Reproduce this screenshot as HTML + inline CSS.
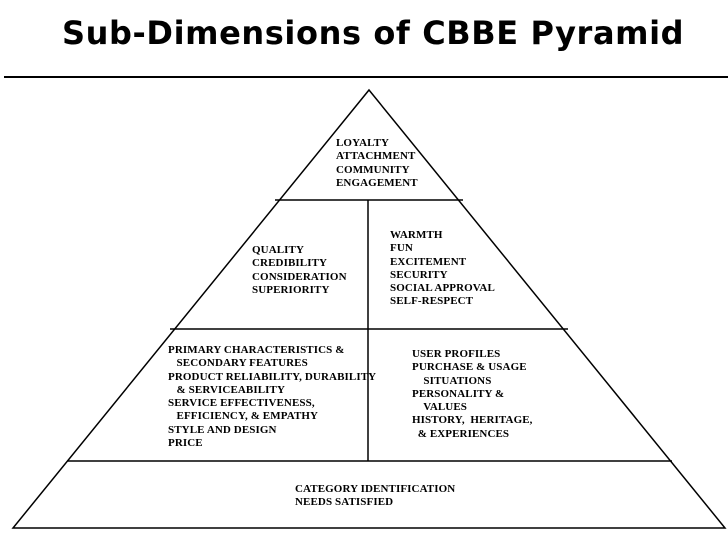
<!DOCTYPE html>
<html><head><meta charset="utf-8"><style>
html,body{margin:0;padding:0;background:#fff;}
body{width:728px;height:546px;position:relative;overflow:hidden;}
.t{position:absolute;left:62px;top:14px;font-family:"DejaVu Sans","Liberation Sans",sans-serif;font-weight:bold;font-size:32px;color:#000;white-space:nowrap;letter-spacing:0.6px;}
.b{position:absolute;font-family:"Liberation Serif",serif;font-weight:bold;font-size:11px;line-height:13.3px;color:#000;white-space:pre;letter-spacing:0.1px;}
</style></head><body>
<div class="t">Sub-Dimensions of CBBE Pyramid</div>
<svg width="728" height="546" style="position:absolute;left:0;top:0">
<line x1="4" y1="77" x2="728" y2="77" stroke="#000" stroke-width="2"/>
<polygon points="369,90 725,528 13,528" fill="none" stroke="#000" stroke-width="1.5"/>
<line x1="275" y1="200" x2="463" y2="200" stroke="#000" stroke-width="1.5"/>
<line x1="170" y1="329" x2="568" y2="329" stroke="#000" stroke-width="1.5"/>
<line x1="67" y1="461" x2="672" y2="461" stroke="#000" stroke-width="1.5"/>
<line x1="368" y1="200" x2="368" y2="461" stroke="#000" stroke-width="1.5"/>
</svg>
<div class="b" style="left:336px;top:137px">LOYALTY
ATTACHMENT
COMMUNITY
ENGAGEMENT</div>
<div class="b" style="left:252px;top:244px">QUALITY
CREDIBILITY
CONSIDERATION
SUPERIORITY</div>
<div class="b" style="left:390px;top:229px">WARMTH
FUN
EXCITEMENT
SECURITY
SOCIAL APPROVAL
SELF-RESPECT</div>
<div class="b" style="left:168px;top:344px">PRIMARY CHARACTERISTICS &amp;
   SECONDARY FEATURES
PRODUCT RELIABILITY, DURABILITY
   &amp; SERVICEABILITY
SERVICE EFFECTIVENESS,
   EFFICIENCY, &amp; EMPATHY
STYLE AND DESIGN
PRICE</div>
<div class="b" style="left:412px;top:348px">USER PROFILES
PURCHASE &amp; USAGE
    SITUATIONS
PERSONALITY &amp;
    VALUES
HISTORY,  HERITAGE,
  &amp; EXPERIENCES</div>
<div class="b" style="left:295px;top:483px">CATEGORY IDENTIFICATION
NEEDS SATISFIED</div>
</body></html>
